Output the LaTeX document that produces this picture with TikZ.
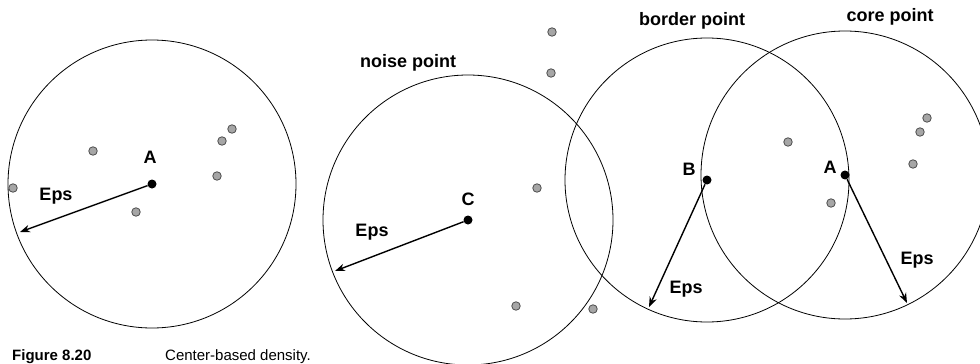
\documentclass[tikz,border=0pt]{standalone}
\usepackage{fontspec}
\setmainfont{Liberation Sans}
\usetikzlibrary{arrows.meta}
\begin{document}
\begin{tikzpicture}[x=1pt, y=-1pt, font=\fontsize{18}{20}\selectfont\bfseries, >={Stealth[length=10pt,width=7.5pt]},
	ring/.style={line width=0.8pt},
	radius arrow/.style={->, line width=1.4pt},
	pt/.style={circle, draw=black!70, fill=black!35, line width=0.8pt, inner sep=0pt, minimum size=8.5pt},
	centre/.style={circle, fill=black, inner sep=0pt, minimum size=9pt}]
	\useasboundingbox (0,0) rectangle (980,364);
	% --- 1. Centres of the Eps-neighbourhoods ---
	\node[centre] (A1) at (152,184) {};
	\node[centre] (C) at (468,220) {};
	\node[centre] (B) at (707,180) {};
	\node[centre] (A2) at (845,175) {};
	
	% Ends of the radius arrows (on the circles)
	\coordinate (E1) at (20,232);
	\coordinate (E2) at (335,271);
	\coordinate (E3) at (649,307);
	\coordinate (E4) at (907,303);
	
	% --- 2. The circles of radius Eps ---
	\draw[ring] (A1) circle[radius=144];
	\draw[ring] (C) circle[radius=145];
	\draw[ring] (B) circle[radius=142];
	\draw[ring] (A2) circle[radius=144];
	
	% --- 3. The radius arrows ---
	\draw[radius arrow] (A1) -- (E1);
	\draw[radius arrow] (C) -- (E2);
	\draw[radius arrow] (B) -- (E3);
	\draw[radius arrow] (A2) -- (E4);
	
	% --- 4. The other points (grey) ---
	\node[pt] (p1) at (93,151) {};
	\node[pt] (p2) at (136,212) {};
	\node[pt] (p3) at (13,188) {};
	\node[pt] (p4) at (217,176) {};
	\node[pt] (p5) at (222,141) {};
	\node[pt] (p6) at (232,129) {};
	\node[pt] (q1) at (552,32) {};
	\node[pt] (q2) at (551,73) {};
	\node[pt] (q3) at (537,188) {};
	\node[pt] (q4) at (516,306) {};
	\node[pt] (q5) at (593,309) {};
	\node[pt] (r1) at (788,142) {};
	\node[pt] (r2) at (927,118) {};
	\node[pt] (r3) at (920,132) {};
	\node[pt] (r4) at (913,164) {};
	\node[pt] (r5) at (831,203) {};
	
	% --- 5. Labels ---
	\node (labA1) at (150,157) {A};
	\node (labC) at (468,199) {C};
	\node (labB) at (689,169) {B};
	\node (labA2) at (830,167) {A};
	\node (eps1) at (56,196) {Eps};
	\node (eps2) at (372,232) {Eps};
	\node (eps3) at (686,289) {Eps};
	\node (eps4) at (917,260) {Eps};
	\node (noise) at (408,63) {noise point};
	\node (border) at (692,21) {border point};
	\node (core) at (890,17) {core point};
	
	% Caption
	\node[anchor=north west, inner sep=0pt, font=\fontsize{15}{17}\selectfont\bfseries] (fig) at (12,349) {Figure 8.20};
	\node[anchor=north west, inner sep=0pt, font=\fontsize{15}{17}\selectfont] (cap) at (165,349) {Center-based density.};
\end{tikzpicture}
\end{document}
